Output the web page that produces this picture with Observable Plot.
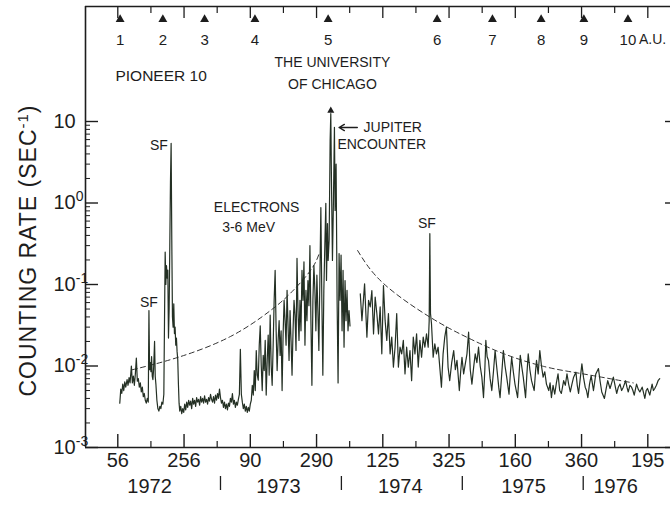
<!DOCTYPE html>
<html>
<head>
<meta charset="utf-8">
<script src="https://cdn.jsdelivr.net/npm/d3@7"></script>
<script src="https://cdn.jsdelivr.net/npm/@observablehq/plot@0.6"></script>
<style>
  body { margin: 0; background: #fff; }
  #chart svg { display: block; }
</style>
</head>
<body>
<div id="chart"></div>
<script>
// Pioneer 10, 3-6 MeV electron counting rate, 1972-1976.
// Time is counted in days from 1972 Jan 0 (1972 day-of-year continues through later years).

// ---- axis ticks and labels ----
const xTickDays = [56, 256, 456, 656, 856, 1056, 1256, 1456, 1656];
const xTickLabels = ["56", "256", "90", "290", "125", "325", "160", "360", "195"];
const xMinorDays = [156, 356, 556, 756, 956, 1156, 1356, 1556];
const years = ["1972", "1973", "1974", "1975", "1976"];
const yearStarts = [0, 366, 731, 1096, 1461];
const yearLabelDay = [152, 175, 178, 185, 98];
const yTicks = [1e-3, 1e-2, 1e-1, 1, 10];
const yTickExponents = ["-3", "-2", "-1", "0", ""];

// heliocentric distance markers (A.U.)
const auDays = [63, 192, 318, 470, 691, 1020, 1187, 1334, 1463, 1596];
const auLabels = ["1", "2", "3", "4", "5", "6", "7", "8", "9", "10"];

// ---- counting rate (sec^-1), [day, rate] ----
const rates1972 = [
  [62,0.0035],[65,0.0052],[68,0.0046],[71,0.0060],[74,0.0050],[77,0.0064],[80,0.0055],[84,0.0068],
  [87,0.0058],[90,0.0072],[93,0.0062],[97,0.0100],[100,0.0062],[103,0.0075],[106,0.0058],[109,0.0080],
  [112,0.0125],[115,0.0065],[118,0.0070],[121,0.0055],[124,0.0062],[127,0.0048],[130,0.0055],[133,0.0042],
  [136,0.0046],[139,0.0038],[142,0.0035],[145,0.0040],[148,0.0036],[150,0.048],[152,0.0090],[154,0.0110],
  [156,0.0085],[158,0.0130],[160,0.0075],[162,0.0068],[164,0.0090],[167,0.020],[169,0.0075],[171,0.0060],
  [174,0.0038],[177,0.0030],[180,0.0028],[183,0.0032],[186,0.0030],[189,0.0036],[192,0.0034],[195,0.0045],
  [197,0.035],[199,0.25],[201,0.10],[203,0.17],[205,0.12],[207,0.15],[209,0.022],[211,0.05],
  [213,0.30],[215,1.8],[217,5.4],[219,0.35],[221,0.04],[223,0.03],[225,0.058],[227,0.025],
  [229,0.030],[231,0.018],[233,0.022],[235,0.015],[237,0.012],[239,0.006],[241,0.0035],[243,0.0028],
  [246,0.0032],[249,0.0026],[252,0.0030],[255,0.0027],[258,0.0034],[261,0.0029],[264,0.0036],[267,0.0031],
  [270,0.0038],[273,0.0033],[276,0.0037],[279,0.0030],[282,0.0040],[285,0.0034],[288,0.0038],[291,0.0032],
  [294,0.0041],[297,0.0036],[300,0.0039],[303,0.0033],[306,0.0042],[309,0.0036],[312,0.0040],[315,0.0035],
  [318,0.0043],[321,0.0036],[324,0.0039],[327,0.0034],[330,0.0041],[333,0.0037],[336,0.0045],[339,0.0039],
  [342,0.0036],[345,0.0042],[348,0.0035],[351,0.0044],[354,0.0038],[357,0.0046],[360,0.0040],[363,0.0052]
];
const rates1973 = [
  [366,0.0041],[369,0.0035],[372,0.0038],[375,0.0031],[378,0.0036],[381,0.0030],[384,0.0034],[387,0.0029],
  [390,0.0035],[393,0.0032],[396,0.0040],[399,0.0036],[402,0.0046],[405,0.0034],[408,0.0038],[411,0.0031],
  [414,0.0036],[417,0.0033],[420,0.0039],[423,0.0045],[426,0.016],[429,0.0045],[432,0.0036],[435,0.0030],
  [438,0.0034],[441,0.0028],[444,0.0032],[447,0.0027],[450,0.0031],[453,0.0028],[456,0.0034],[459,0.0038],
  [462,0.0058],[465,0.0044],[468,0.0088],[471,0.0050],[474,0.0155],[477,0.0077],[480,0.0067],[483,0.018],
  [486,0.031],[489,0.0102],[492,0.0050],[495,0.0135],[498,0.0088],[501,0.0206],[504,0.0044],[507,0.0117],
  [510,0.024],[513,0.0077],[516,0.042],[519,0.0102],[522,0.0058],[525,0.018],[528,0.064],[531,0.149],
  [534,0.027],[537,0.0088],[540,0.0206],[543,0.036],[546,0.0135],[549,0.027],[552,0.0050],[555,0.024],
  [558,0.064],[561,0.036],[564,0.018],[567,0.085],[570,0.031],[573,0.0117],[576,0.048],[579,0.0206],
  [582,0.0077],[585,0.027],[588,0.064],[591,0.042],[594,0.0155],[597,0.21],[600,0.048],[603,0.0206],
  [606,0.064],[609,0.027],[612,0.149],[615,0.064],[618,0.19],[621,0.018],[624,0.085],[627,0.036],
  [630,0.112],[633,0.055],[636,0.30],[639,0.036],[642,0.0058],[645,0.064],[648,0.17],[651,0.085],
  [654,0.027],[657,0.13],[660,0.048],[663,0.0155],[666,0.112],[669,0.88],[672,0.064],[675,0.0077],
  [678,0.085],[681,0.30],[684,0.99],[686,0.112],[689,0.56],[691,0.197],[694,0.35],[697,5.8],
  [699,12.5],[701,1.9],[704,0.197],[707,1.07],[710,8.5],[712,0.81],[715,3.0],[718,0.064],
  [721,0.0062],[724,0.24],[727,0.064],[730,0.23]
];
const rates1974 = [
  [733,0.027],[736,0.149],[739,0.017],[742,0.112],[745,0.036],[748,0.085],[751,0.027],[754,0.048],
  [757,0.031],[770,null],
  [788,0.077],[793,0.036],[801,0.102],[808,0.0226],[813,0.064],[818,0.053],[823,0.084],[828,0.0248],
  [833,0.070],[838,0.044],[843,0.0248],[848,0.053],[853,0.0141],[858,0.097],[863,0.036],[868,0.0206],
  [873,0.044],[878,0.0141],[883,0.0226],[888,0.0097],[893,0.0170],[898,0.044],[903,0.0097],[908,0.0170],
  [913,0.0141],[918,0.0206],[923,0.0080],[928,0.0170],[933,0.0097],[938,0.0155],[943,0.0066],[948,0.0226],
  [953,0.0141],[958,0.0248],[963,0.0097],[968,0.0206],[973,0.0128],[978,0.0226],[983,0.0170],[988,0.0248],
  [993,0.0170],[996,0.036],[998,0.42],[1000,0.044],[1003,0.033],[1008,0.0128],[1013,0.0187],[1018,0.0141],
  [1023,0.0170],[1028,0.0097],[1033,0.0055],[1038,0.0141],[1043,0.0226],[1048,0.030],[1053,0.0097],[1058,0.0066],
  [1064,0.0110],[1070,0.0155],[1075,0.0090],[1080,0.0117],[1087,0.0050],[1091,0.0085],[1095,0.0128]
];
const rates1975 = [
  [1100,0.0080],[1105,0.0106],[1110,0.0140],[1115,0.026],[1120,0.0090],[1125,0.0060],[1130,0.0095],[1135,0.0141],
  [1140,0.0110],[1145,0.0170],[1150,0.0100],[1155,0.0073],[1160,0.0041],[1164,0.0090],[1167,0.0206],[1171,0.0130],
  [1175,0.0117],[1180,0.0070],[1185,0.0050],[1190,0.0085],[1195,0.0155],[1199,0.0105],[1203,0.0073],[1206,0.0055],
  [1210,0.0041],[1215,0.0080],[1220,0.0155],[1225,0.0100],[1230,0.0073],[1237,0.0045],[1241,0.0080],[1245,0.0128],
  [1250,0.0085],[1255,0.0060],[1263,0.0041],[1267,0.0075],[1271,0.0135],[1276,0.0095],[1280,0.0073],[1287,0.0041],
  [1291,0.0080],[1295,0.0141],[1300,0.0090],[1305,0.0066],[1313,0.0050],[1317,0.0085],[1320,0.0117],[1325,0.0080],
  [1330,0.0155],[1335,0.0100],[1340,0.0073],[1345,0.0085],[1350,0.0060],[1357,0.0050],[1361,0.0062],[1365,0.0041],
  [1370,0.0058],[1375,0.0045],[1380,0.0062],[1385,0.0080],[1390,0.0050],[1395,0.0046],[1402,0.0066],[1407,0.0058],
  [1412,0.0080],[1417,0.0060],[1422,0.0048],[1427,0.0060],[1432,0.0073],[1439,0.0084],[1443,0.0058],[1447,0.0046],
  [1452,0.0070],[1457,0.0106]
];
const rates1976 = [
  [1462,0.0072],[1467,0.0055],[1471,0.0050],[1475,0.0041],[1480,0.0060],[1485,0.0076],[1492,0.0050],[1499,0.0080],
  [1507,0.0093],[1512,0.0065],[1517,0.0048],[1525,0.0040],[1530,0.0052],[1535,0.0066],[1542,0.0053],[1547,0.0062],
  [1552,0.0073],[1557,0.0058],[1562,0.0046],[1567,0.0055],[1572,0.0060],[1577,0.0050],[1582,0.0055],[1589,0.0066],
  [1593,0.0055],[1597,0.0048],[1602,0.0058],[1607,0.0055],[1611,0.0050],[1615,0.0044],[1622,0.0060],[1627,0.0052],
  [1632,0.0048],[1639,0.0055],[1643,0.0047],[1647,0.0040],[1651,0.0050],[1655,0.0053],[1662,0.0044],[1669,0.0060],
  [1673,0.0050],[1677,0.0053],[1682,0.0058],[1687,0.0066],[1692,0.0070]
];
const counts = [...rates1972, ...rates1973, ...rates1974, ...rates1975, ...rates1976];

// dashed reference curves before and after the encounter
const inboundCurve = [[100,0.0090],[236,0.0127],[396,0.023],[517,0.048],[577,0.078],[638,0.149],[665,0.247]];
const outboundCurve = [[780,0.261],[858,0.103],[1000,0.0394],[1111,0.0224],[1220,0.0142],[1341,0.0099],[1453,0.0081],[1612,0.0062]];

// annotations, anchored in (day, rate)
const notesStart = [
  {label: "JUPITER", day: 798, rate: 8.44},
  {label: "ENCOUNTER", day: 719, rate: 5.22},
  {label: "ELECTRONS", day: 346, rate: 0.88},
  {label: "3-6 MeV", day: 371, rate: 0.50}
];
const notesCenter = [
  {label: "THE UNIVERSITY", day: 704, rate: 53},
  {label: "OF CHICAGO", day: 704, rate: 28.5},
  {label: "SF", day: 180, rate: 5.08},
  {label: "SF", day: 150, rate: 0.060},
  {label: "SF", day: 989, rate: 0.56}
];
const mission = {label: "PIONEER 10", day: 49, rate: 36.6};
const encounterArrow = {from: 779, to: 724, rate: 8.44};

// ---- layout ----
const W = 670, H = 505;
const mTop = 6, mRight = 0, mBottom = 58, mLeft = 85;
const frameW = W - mLeft - mRight;
const frameH = H - mTop - mBottom;
const xDomain = [-41.5, 1724.5];
const yDomain = [1e-3, 257.7];
const ink = "#1d1d1d";
const yMinor = d3.range(-3, 1).flatMap(k => d3.range(2, 10).map(m => m * 10 ** k));
const peak = d3.greatest(counts, d => d[1]);

const chart = Plot.plot({
  width: W,
  height: H,
  marginTop: mTop,
  marginRight: mRight,
  marginBottom: mBottom,
  marginLeft: mLeft,
  x: {domain: xDomain, axis: null},
  y: {type: "log", domain: yDomain, axis: null},
  style: {fontFamily: "'Liberation Sans', Arial, sans-serif", background: "#fff", color: ink},
  marks: [
    // frame: left, top and bottom
    Plot.ruleX([xDomain[0]], {stroke: ink, strokeWidth: 1.6}),
    Plot.ruleY([yDomain[0]], {stroke: ink, strokeWidth: 1.6}),
    Plot.ruleY([yDomain[1]], {stroke: ink, strokeWidth: 1.4}),
    // bottom ticks (inward)
    Plot.ruleX(xTickDays, {x: d => d, insetTop: frameH - 13, stroke: ink, strokeWidth: 1.4}),
    Plot.ruleX(xMinorDays, {x: d => d, insetTop: frameH - 6, stroke: ink, strokeWidth: 1.2}),
    // top ticks (hanging)
    Plot.ruleX(xTickDays, {x: d => d, insetBottom: frameH - 12, stroke: ink, strokeWidth: 1.3}),
    Plot.ruleX(xMinorDays, {x: d => d, insetBottom: frameH - 7, stroke: ink, strokeWidth: 1.2}),
    // left ticks
    Plot.ruleY(yTicks, {y: d => d, insetRight: frameW - 13, stroke: ink, strokeWidth: 1.4}),
    Plot.ruleY(yMinor, {y: d => d, insetRight: frameW - 5, stroke: ink, strokeWidth: 1}),
    // right ticks
    Plot.ruleY(yTicks, {y: d => d, insetLeft: frameW - 5, stroke: ink, strokeWidth: 1.4}),
    // year separators below the axis
    Plot.ruleX(yearStarts.slice(1), {x: d => d, insetTop: frameH + 29, insetBottom: -43, stroke: ink, strokeWidth: 1.3}),

    // dashed curves
    Plot.line(inboundCurve, {x: d => d[0], y: d => d[1], curve: "natural", stroke: "#333", strokeWidth: 1, strokeDasharray: "5,3.5"}),
    Plot.line(outboundCurve, {x: d => d[0], y: d => d[1], curve: "natural", stroke: "#333", strokeWidth: 1, strokeDasharray: "5,3.5"}),

    // counting rate
    Plot.line(counts, {x: d => d[0], y: d => d[1], stroke: "#243024", strokeWidth: 1.2}),
    Plot.dot([peak], {x: d => d[0], y: d => d[1], symbol: "triangle", r: 2.6, dy: -3, fill: ink, stroke: null}),

    // A.U. markers
    Plot.dot(auDays, {x: d => d, frameAnchor: "top", dy: 13, symbol: "triangle", r: 3.3, fill: ink, stroke: null}),
    Plot.text(auDays, {x: d => d, text: (d, i) => auLabels[i], frameAnchor: "top", dy: 28, fontSize: 15, fill: ink}),
    Plot.text(["A.U."], {x: () => auDays[auDays.length - 1], frameAnchor: "top", dy: 28, dx: 11, textAnchor: "start", fontSize: 14, fill: ink}),

    // axis labels
    Plot.text(xTickDays, {x: d => d, text: (d, i) => xTickLabels[i], frameAnchor: "bottom", dy: 19, fontSize: 20, fill: ink}),
    Plot.text(years, {x: (d, i) => yearStarts[i] + yearLabelDay[i], frameAnchor: "bottom", dy: 45, fontSize: 20, fill: ink}),
    Plot.text(yTicks, {y: d => d, text: () => "10", frameAnchor: "left", dx: -32, textAnchor: "start", fontSize: 20, fill: ink, ariaDescription: "y-tick-label"}),
    Plot.text(["COUNTING RATE (SEC"], {frameAnchor: "left", textAnchor: "middle", dx: -57, dy: 23.5, rotate: -90, fontSize: 23, fill: ink, ariaDescription: "y-title"}),

    // annotations
    Plot.text([mission], {x: "day", y: "rate", text: "label", textAnchor: "start", fontSize: 15.5, fill: ink}),
    Plot.text(notesStart, {x: "day", y: "rate", text: "label", textAnchor: "start", fontSize: 14, fill: ink}),
    Plot.text(notesCenter, {x: "day", y: "rate", text: "label", fontSize: 14, fill: ink}),
    Plot.arrow([encounterArrow], {x1: "from", x2: "to", y1: "rate", y2: "rate", stroke: ink, strokeWidth: 1.4, headLength: 7})
  ]
});

// superscript exponents on the logarithmic tick labels and the unit
const svg = d3.select(chart);
svg.selectAll('g[aria-description="y-tick-label"] text').each(function (i) {
  const exp = yTickExponents[i];
  if (exp) d3.select(this).append("tspan").attr("dy", -8).attr("font-size", 14).text(exp);
});
svg.selectAll('g[aria-description="y-title"] text').each(function () {
  const t = d3.select(this).style("letter-spacing", "1px");
  t.append("tspan").attr("dy", -8).attr("font-size", 15).text("-1");
  t.append("tspan").attr("dy", 8).text(")");
});

document.getElementById("chart").append(chart);
</script>
</body>
</html>
